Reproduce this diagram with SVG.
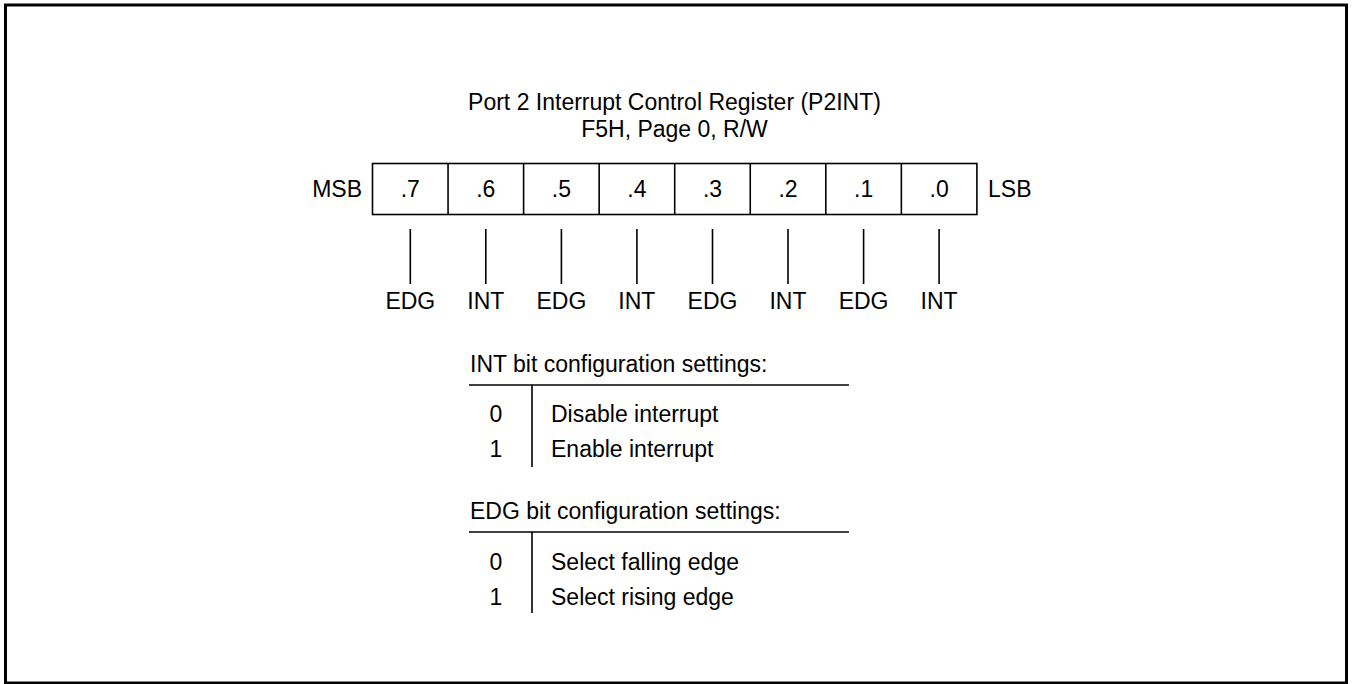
<svg xmlns="http://www.w3.org/2000/svg" width="1353" height="684" viewBox="0 0 1353 684">
<style>
text{font-family:"Liberation Sans",Arial,sans-serif;font-size:23px;fill:#000}
.m{text-anchor:middle}
.e{text-anchor:end}
.cell{fill:#fff;stroke:#000;stroke-width:1.6}
.ln{stroke:#000;stroke-width:1.6;fill:none}
</style>
<rect x="0" y="0" width="1353" height="684" fill="#fff"/>
<rect id="frame" x="5.5" y="5" width="1341" height="678" fill="none" stroke="#000" stroke-width="3"/>
<g id="title">
<text class="m" x="674.5" y="110">Port 2 Interrupt Control Register (P2INT)</text>
<text class="m" x="674.5" y="137">F5H, Page 0, R/W</text>
</g>
<g id="register">
<text class="e" x="362" y="197">MSB</text>
<rect class="cell" x="372.5" y="163.5" width="604.4" height="51"/>
<line class="ln" x1="448.05" y1="163.5" x2="448.05" y2="214.5"/>
<line class="ln" x1="523.6" y1="163.5" x2="523.6" y2="214.5"/>
<line class="ln" x1="599.15" y1="163.5" x2="599.15" y2="214.5"/>
<line class="ln" x1="674.7" y1="163.5" x2="674.7" y2="214.5"/>
<line class="ln" x1="750.25" y1="163.5" x2="750.25" y2="214.5"/>
<line class="ln" x1="825.8" y1="163.5" x2="825.8" y2="214.5"/>
<line class="ln" x1="901.35" y1="163.5" x2="901.35" y2="214.5"/>
<text class="m" x="410.3" y="197">.7</text>
<text class="m" x="485.8" y="197">.6</text>
<text class="m" x="561.4" y="197">.5</text>
<text class="m" x="636.9" y="197">.4</text>
<text class="m" x="712.5" y="197">.3</text>
<text class="m" x="788" y="197">.2</text>
<text class="m" x="863.6" y="197">.1</text>
<text class="m" x="939.1" y="197">.0</text>
<text x="988" y="197">LSB</text>
</g>
<g id="connectors">
<line class="ln" x1="410.3" y1="229" x2="410.3" y2="284"/>
<line class="ln" x1="485.8" y1="229" x2="485.8" y2="284"/>
<line class="ln" x1="561.4" y1="229" x2="561.4" y2="284"/>
<line class="ln" x1="636.9" y1="229" x2="636.9" y2="284"/>
<line class="ln" x1="712.5" y1="229" x2="712.5" y2="284"/>
<line class="ln" x1="788" y1="229" x2="788" y2="284"/>
<line class="ln" x1="863.6" y1="229" x2="863.6" y2="284"/>
<line class="ln" x1="939.1" y1="229" x2="939.1" y2="284"/>
</g>
<g id="bit-labels">
<text class="m" x="410.3" y="309">EDG</text>
<text class="m" x="485.8" y="309">INT</text>
<text class="m" x="561.4" y="309">EDG</text>
<text class="m" x="636.9" y="309">INT</text>
<text class="m" x="712.5" y="309">EDG</text>
<text class="m" x="788" y="309">INT</text>
<text class="m" x="863.6" y="309">EDG</text>
<text class="m" x="939.1" y="309">INT</text>
</g>
<g id="int-table">
<text x="470" y="372">INT bit configuration settings:</text>
<line class="ln" x1="469" y1="385" x2="849" y2="385"/>
<line class="ln" x1="532" y1="385" x2="532" y2="467"/>
<text class="m" x="496" y="422">0</text>
<text x="551" y="422">Disable interrupt</text>
<text class="m" x="496" y="457">1</text>
<text x="551" y="457">Enable interrupt</text>
</g>
<g id="edg-table">
<text x="470" y="519">EDG bit configuration settings:</text>
<line class="ln" x1="469" y1="532" x2="849" y2="532"/>
<line class="ln" x1="532" y1="532" x2="532" y2="613"/>
<text class="m" x="496" y="570">0</text>
<text x="551" y="570">Select falling edge</text>
<text class="m" x="496" y="605">1</text>
<text x="551" y="605">Select rising edge</text>
</g>
</svg>
